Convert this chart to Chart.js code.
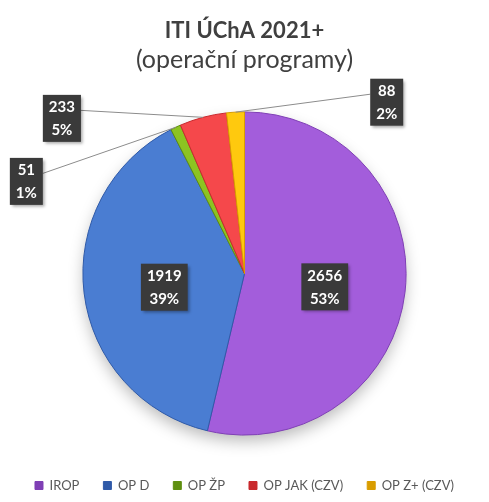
<!DOCTYPE html>
<html>
<head>
<meta charset="utf-8">
<script src="https://cdn.jsdelivr.net/npm/chart.js@4.4.1/dist/chart.umd.min.js"></script>
<style>
  body { margin: 0; background: #fff; }
  #wrap { width: 489px; height: 502px; }
</style>
</head>
<body>
<div id="wrap"><canvas id="chart"></canvas></div>
<script>
// data
const categories = ["IROP", "OP D", "OP ŽP", "OP JAK (CZV)", "OP Z+ (CZV)"];
const values = [2656, 1919, 51, 233, 88];
const percentLabels = ["53%", "39%", "1%", "5%", "2%"];

const colors = ["#a35ddb", "#4a7dd2", "#8cc322", "#f5484b", "#ffc90e"];
const edgeColors = ["#7f3fb5", "#2f5aa8", "#5f8f10", "#c92a2e", "#d99d00"];

// where the outside labels sit (in pie radii from the centre); null = inside
const labelSpots = [null, null, { fx: -1.35, fy: -0.57 }, { fx: -1.13, fy: -0.96 }, { fx: 0.88, fy: -1.06 }];

const FONT = "Lato, 'Open Sans', sans-serif";

function shade(ctx) {
  const chart = ctx.chart;
  const i = ctx.dataIndex;
  const meta = chart.getDatasetMeta(0);
  const arc = meta.data[i];
  if (!arc || !arc.outerRadius) return colors[i];
  const g = chart.ctx.createRadialGradient(arc.x, arc.y, 0, arc.x, arc.y, arc.outerRadius);
  g.addColorStop(0, colors[i]);
  g.addColorStop(0.88, colors[i]);
  g.addColorStop(1, edgeColors[i]);
  return g;
}

const pieShadow = {
  id: "pieShadow",
  beforeDatasetsDraw(chart) {
    const arc = chart.getDatasetMeta(0).data[0];
    if (!arc) return;
    const ctx = chart.ctx;
    ctx.save();
    ctx.shadowColor = "rgba(0,0,0,0.28)";
    ctx.shadowBlur = 16;
    ctx.shadowOffsetY = 7;
    ctx.fillStyle = "#ffffff";
    ctx.beginPath();
    ctx.arc(arc.x, arc.y, arc.outerRadius - 1, 0, Math.PI * 2);
    ctx.fill();
    ctx.restore();
  }
};

const boxLabels = {
  id: "boxLabels",
  afterDatasetsDraw(chart) {
    const ctx = chart.ctx;
    const arcs = chart.getDatasetMeta(0).data;
    ctx.save();
    ctx.font = "bold 15px " + FONT;
    arcs.forEach(function (arc, i) {
      const lines = [String(values[i]), percentLabels[i]];
      const w = Math.max(ctx.measureText(lines[0]).width, ctx.measureText(lines[1]).width) + 12;
      const h = 47;
      let cx, cy;
      const spot = labelSpots[i];
      if (spot) {
        cx = arc.x + spot.fx * arc.outerRadius;
        cy = arc.y + spot.fy * arc.outerRadius;
        // leader line to the middle of the slice's rim
        const mid = (arc.startAngle + arc.endAngle) / 2;
        const ex = arc.x + Math.cos(mid) * arc.outerRadius;
        const ey = arc.y + Math.sin(mid) * arc.outerRadius;
        const sx = ex > cx ? cx + w / 2 : cx - w / 2;
        ctx.strokeStyle = "#8c8c8c";
        ctx.lineWidth = 1;
        ctx.beginPath();
        ctx.moveTo(sx, cy - 8);
        ctx.lineTo(ex, ey);
        ctx.stroke();
      } else {
        const p = arc.tooltipPosition();
        cx = p.x;
        cy = p.y + 4;
      }
      ctx.save();
      ctx.shadowColor = "rgba(0,0,0,0.35)";
      ctx.shadowBlur = 3;
      ctx.shadowOffsetX = 2;
      ctx.shadowOffsetY = 2;
      ctx.fillStyle = "#3a3a3a";
      ctx.fillRect(cx - w / 2, cy - h / 2, w, h);
      ctx.restore();
      ctx.fillStyle = "#ffffff";
      ctx.textAlign = "center";
      ctx.textBaseline = "middle";
      ctx.fillText(lines[0], cx, cy - 11);
      ctx.fillText(lines[1], cx, cy + 12);
    });
    ctx.restore();
  }
};

new Chart("chart", {
  type: "pie",
  data: {
    labels: categories,
    datasets: [
      {
        data: values,
        backgroundColor: shade,
        borderColor: edgeColors,
        borderWidth: 1,
      },
    ],
  },
  options: {
    responsive: true,
    maintainAspectRatio: false,
    animation: false,
    layout: { padding: { left: 0, right: 0, top: 0, bottom: 0 } },
    plugins: {
      title: {
        display: true,
        text: "ITI ÚChA 2021+",
        color: "#404040",
        font: { family: FONT, size: 22, weight: "bold" },
        padding: { top: 18, bottom: 1 },
      },
      subtitle: {
        display: true,
        text: "(operační programy)",
        color: "#404040",
        font: { family: FONT, size: 25, weight: "normal" },
        padding: { top: 0, bottom: 36 },
      },
      legend: {
        position: "bottom",
        title: { display: true, text: " ", font: { size: 12 }, padding: { top: 0, bottom: 5 } },
        labels: {
          boxWidth: 8,
          boxHeight: 8,
          padding: 24,
          color: "#595959",
          font: { family: FONT, size: 13 },
        },
      },
      tooltip: { enabled: false },
    },
  },
  plugins: [pieShadow, boxLabels],
});
</script>
</body>
</html>
